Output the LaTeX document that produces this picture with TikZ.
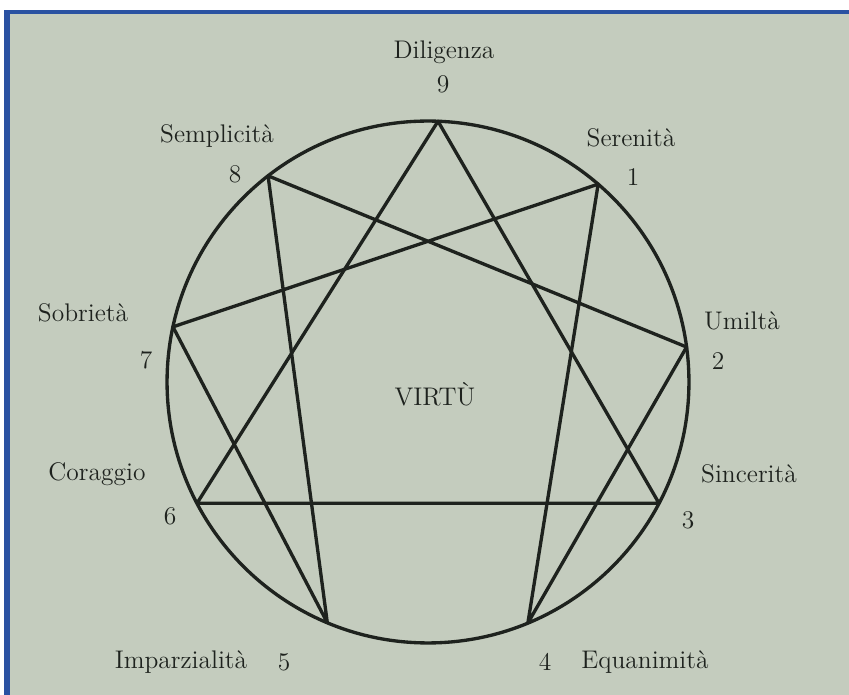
\documentclass[tikz,border=0pt]{standalone}
\usepackage{fontspec}
\usepackage{xcolor}
\usepackage{tikz}
\usetikzlibrary{positioning}
\definecolor{paper}{RGB}{196,204,190}
\definecolor{frameblue}{RGB}{42,82,162}
\definecolor{ink}{RGB}{30,34,30}

\begin{document}
\begin{tikzpicture}[x=0.02cm,y=-0.02cm,
 lbl/.style={text=ink,font=\fontsize{14.5}{17}\selectfont,inner sep=0pt},
 num/.style={lbl},
 edge/.style={draw=ink,line width=1.9pt,line join=round},
 ring/.style={circle,draw=ink,line width=1.9pt,minimum size=10.44cm,inner sep=0pt,outer sep=0pt}]
\useasboundingbox (0,0) rectangle (849,695);
\fill[white] (0,0) rectangle (849,695);
\fill[frameblue] (4,10) rectangle (849,695);
\fill[paper] (10,14) rectangle (849,695);
% circle and the nine points
\node[ring] (ring) at (428,382) {};
\foreach \n/\a in {9/87.8,1/49.3,2/7.7,3/-27.7,4/-67.5,5/-112.7,6/-152.3,7/167.8,8/127.8}
  \path (ring.center) ++(\a:5.22cm) coordinate (p\n);
% triangle and hexad
\draw[edge] (p9) -- (p3) -- (p6) -- cycle;
\draw[edge] (p1) -- (p4) -- (p2) -- (p8) -- (p5) -- (p7) -- cycle;
% labels
\node[lbl] (dil) at (444,52) {Diligenza};
\node[num] (n9) at (443,84) {9};
\node[lbl] (sem) at (217,136) {Semplicità};
\node[num] (n8) at (235,174) {8};
\node[lbl] (ser) at (631,138) {Serenità};
\node[num] (n1) at (633,177) {1};
\node[lbl] (umi) at (742,321) {Umiltà};
\node[num] (n2) at (718,361) {2};
\node[lbl] (sin) at (749,474) {Sincerità};
\node[num] (n3) at (688,520) {3};
\node[lbl] (equ) at (645,662) {Equanimità};
\node[num] (n4) at (545,662) {4};
\node[lbl] (imp) at (181,662) {Imparzialità};
\node[num] (n5) at (284,662) {5};
\node[lbl] (cor) at (97,474) {Coraggio};
\node[num] (n6) at (170,516) {6};
\node[lbl] (sob) at (83,313) {Sobrietà};
\node[num] (n7) at (146,360) {7};
\node[lbl] (vir) at (435,394) {VIRTÙ};
\end{tikzpicture}
\end{document}
